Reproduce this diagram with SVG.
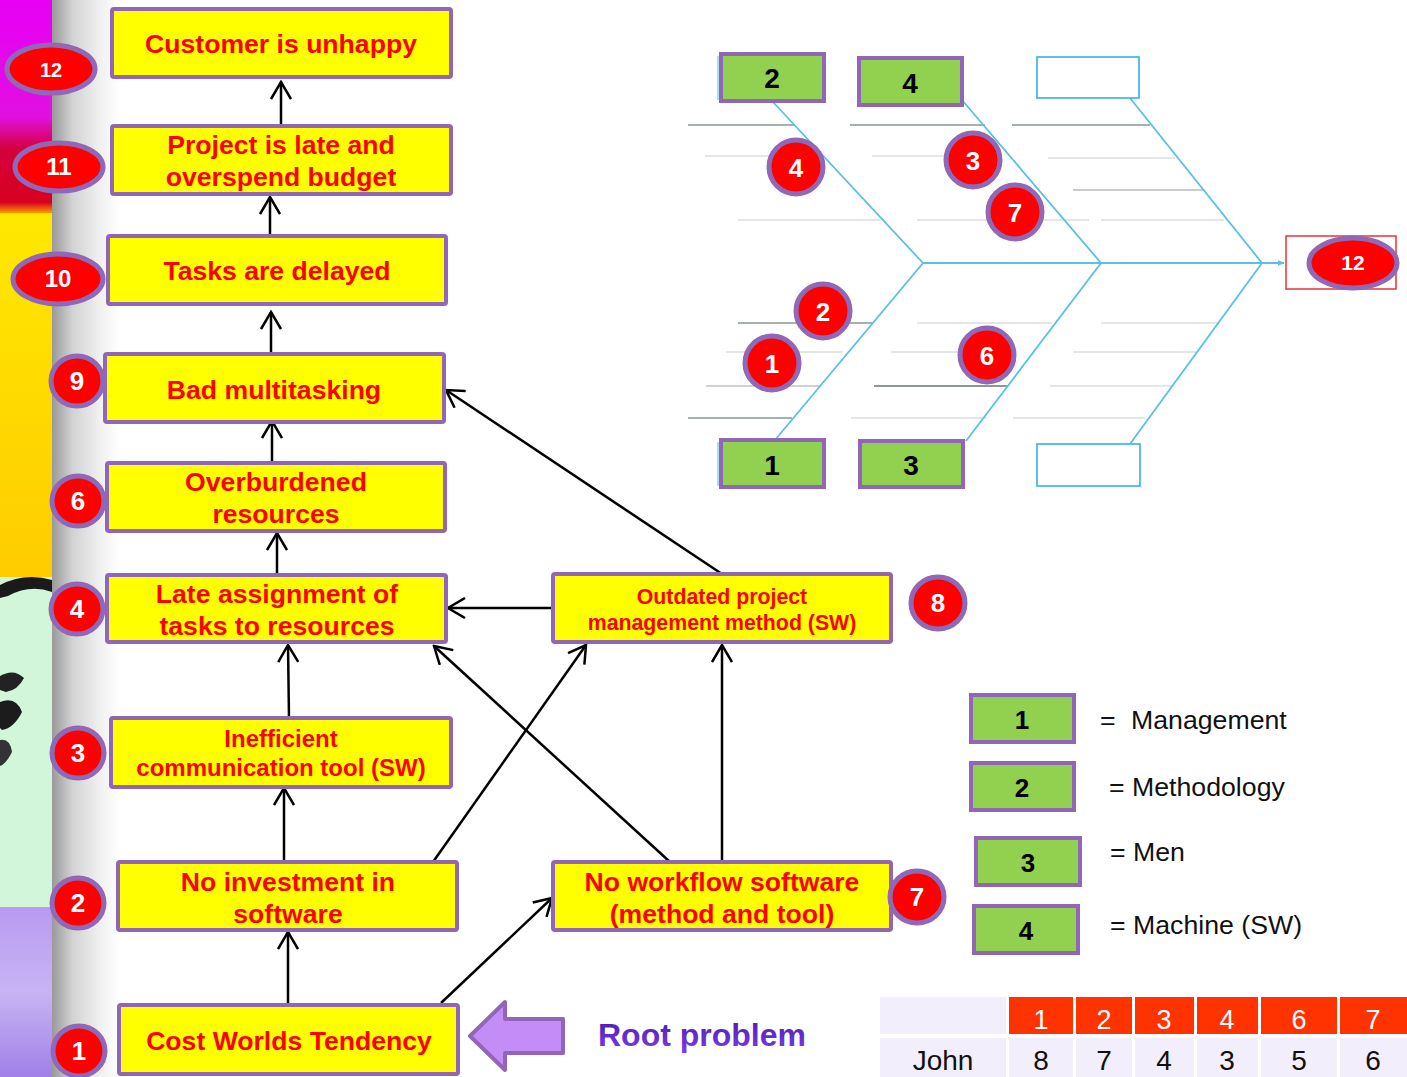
<svg xmlns="http://www.w3.org/2000/svg" width="1407" height="1077" viewBox="0 0 1407 1077">
<defs>
<style>
.box{fill:#ffff00;stroke:#9166b8;stroke-width:4}
.bt{font-family:"Liberation Sans",Arial,sans-serif;font-weight:bold;fill:#ff0000;text-anchor:middle}
.badge{fill:#ff0000;stroke:#8f68b8;stroke-width:5}
.bn{font-family:"Liberation Sans",Arial,sans-serif;font-weight:bold;fill:#ffffff;text-anchor:middle;font-size:24px}
.gb{fill:#92d050;stroke:#9166b8;stroke-width:4}
.gn{font-family:"Liberation Sans",Arial,sans-serif;font-weight:bold;fill:#000;text-anchor:middle;font-size:26px}
.lg{font-family:"Liberation Sans",Arial,sans-serif;fill:#111;font-size:26.7px}
.con{stroke:#000;stroke-width:2.5;fill:none;marker-end:url(#ah)}
.fb{stroke:#5bbfe6;stroke-width:1.8;fill:none}
.rd{stroke:#a7b0b0;stroke-width:2}
.rl{stroke:#e2e6e6;stroke-width:2}
.th{fill:#ff3300}
.tc{fill:#f3eefc}
.tt{font-family:"Liberation Sans",Arial,sans-serif;font-size:27px;text-anchor:middle}
</style>
<marker id="ah" viewBox="0 0 20 22" refX="18" refY="11" markerWidth="20" markerHeight="22" markerUnits="userSpaceOnUse" orient="auto">
<path d="M1,1 L18,11 L1,21" fill="none" stroke="#000" stroke-width="2.5"/>
</marker>
<marker id="fa" viewBox="0 0 10 10" refX="9" refY="5" markerWidth="7" markerHeight="7" markerUnits="userSpaceOnUse" orient="auto">
<path d="M0,1 L10,5 L0,9 z" fill="#5bbfe6"/>
</marker>
<linearGradient id="gray" x1="0" y1="0" x2="1" y2="0">
<stop offset="0" stop-color="#999999"/>
<stop offset="0.3" stop-color="#d2d2d2"/>
<stop offset="0.7" stop-color="#f0f0f0"/>
<stop offset="1" stop-color="#ffffff"/>
</linearGradient>
<linearGradient id="yel" x1="0" y1="0" x2="0" y2="1">
<stop offset="0" stop-color="#ffe800"/>
<stop offset="1" stop-color="#ffcc00"/>
</linearGradient>
<linearGradient id="mag" x1="0" y1="0" x2="0" y2="1">
<stop offset="0" stop-color="#e800f5"/>
<stop offset="0.55" stop-color="#e010e0"/>
<stop offset="0.7" stop-color="#d4003c"/>
<stop offset="0.95" stop-color="#d80020"/>
<stop offset="1" stop-color="#ff9900"/>
</linearGradient>
<linearGradient id="lav" x1="0" y1="0" x2="0" y2="1">
<stop offset="0" stop-color="#b89af0"/>
<stop offset="0.5" stop-color="#c8b4f4"/>
<stop offset="1" stop-color="#a080e8"/>
</linearGradient>
<linearGradient id="rp" x1="0" y1="0" x2="0" y2="1">
<stop offset="0" stop-color="#4a1ba6"/>
<stop offset="1" stop-color="#7b3cf2"/>
</linearGradient>
</defs>
<rect x="0" y="0" width="1407" height="1077" fill="#ffffff"/>
<g id="background">
<rect x="0" y="0" width="52" height="213" fill="url(#mag)"/>
<rect x="0" y="213" width="52" height="364" fill="url(#yel)"/>
<rect x="0" y="577" width="52" height="330" fill="#d2f6da"/>
<path d="M0,585 Q25,572 52,580 L52,592 Q30,584 8,596 L0,598 z" fill="#1a1a1a"/>
<path d="M0,676 Q14,668 24,678 Q18,690 6,692 L0,690 z" fill="#222"/>
<path d="M0,702 Q16,696 22,712 Q14,728 2,730 L0,728 z" fill="#1c1c1c"/>
<path d="M0,740 Q10,738 12,752 Q6,764 0,766 z" fill="#333"/>
<rect x="0" y="907" width="52" height="170" fill="url(#lav)"/>
<rect x="52" y="0" width="68" height="1077" fill="url(#gray)"/>
</g>
<g id="connectors">
<line class="con" x1="281" y1="126" x2="281" y2="82"/>
<line class="con" x1="270" y1="236" x2="270" y2="197"/>
<line class="con" x1="271" y1="354" x2="271" y2="312"/>
<line class="con" x1="272" y1="463" x2="272" y2="421"/>
<line class="con" x1="277" y1="575" x2="277" y2="533"/>
<line class="con" x1="289" y1="718" x2="288" y2="645"/>
<line class="con" x1="284" y1="862" x2="284" y2="788"/>
<line class="con" x1="288" y1="1005" x2="288" y2="932"/>
<line class="con" x1="441" y1="1003" x2="552" y2="898"/>
<line class="con" x1="433" y1="862" x2="586" y2="645"/>
<line class="con" x1="670" y1="862" x2="434" y2="646"/>
<line class="con" x1="722" y1="862" x2="722" y2="645"/>
<line class="con" x1="553" y1="608" x2="448" y2="608"/>
<line class="con" x1="722" y1="574" x2="446" y2="390"/>
</g>
<g id="n12"><rect class="box" x="112" y="9" width="339" height="68" rx="2"/><text class="bt" x="281" y="53" font-size="26.6">Customer is unhappy</text></g>
<g id="n11"><rect class="box" x="112" y="126" width="339" height="68" rx="2"/><text class="bt" x="281" y="154" font-size="26.6">Project is late and</text><text class="bt" x="281" y="186" font-size="26.6">overspend budget</text></g>
<g id="n10"><rect class="box" x="108" y="236" width="338" height="68" rx="2"/><text class="bt" x="277" y="280" font-size="26.6">Tasks are delayed</text></g>
<g id="n9"><rect class="box" x="105" y="354" width="339" height="68" rx="2"/><text class="bt" x="274" y="399" font-size="26.6">Bad multitasking</text></g>
<g id="n6"><rect class="box" x="107" y="463" width="338" height="68" rx="2"/><text class="bt" x="276" y="491" font-size="26.6">Overburdened</text><text class="bt" x="276" y="523" font-size="26.6">resources</text></g>
<g id="n4"><rect class="box" x="107" y="575" width="339" height="67" rx="2"/><text class="bt" x="277" y="603" font-size="26.6">Late assignment of</text><text class="bt" x="277" y="635" font-size="26.6">tasks to resources</text></g>
<g id="n3"><rect class="box" x="111" y="718" width="340" height="69" rx="2"/><text class="bt" x="281" y="747" font-size="24">Inefficient</text><text class="bt" x="281" y="776" font-size="24">communication tool (SW)</text></g>
<g id="n2"><rect class="box" x="118" y="862" width="339" height="68" rx="2"/><text class="bt" x="288" y="891" font-size="26.6">No investment in</text><text class="bt" x="288" y="923" font-size="26.6">software</text></g>
<g id="n1"><rect class="box" x="119" y="1005" width="339" height="69" rx="2"/><text class="bt" x="289" y="1050" font-size="26.6">Cost Worlds Tendency</text></g>
<g id="n8"><rect class="box" x="553" y="574" width="338" height="68" rx="2"/><text class="bt" x="722" y="604" font-size="21.3">Outdated project</text><text class="bt" x="722" y="630" font-size="21.3">management method (SW)</text></g>
<g id="n7"><rect class="box" x="553" y="862" width="338" height="68" rx="2"/><text class="bt" x="722" y="891" font-size="26.6">No workflow software</text><text class="bt" x="722" y="923" font-size="26.6">(method and tool)</text></g>
<g id="badges">
<ellipse class="badge" cx="51" cy="69" rx="44" ry="24"/><text class="bn" x="51" y="77" style="font-size:20px">12</text>
<ellipse class="badge" cx="59" cy="167" rx="44" ry="24"/><text class="bn" x="59" y="175">11</text>
<ellipse class="badge" cx="58" cy="279" rx="45" ry="25"/><text class="bn" x="58" y="287">10</text>
<ellipse class="badge" cx="77" cy="381" rx="26" ry="25"/><text class="bn" x="77" y="390" style="font-size:26px">9</text>
<ellipse class="badge" cx="78" cy="501" rx="26" ry="25"/><text class="bn" x="78" y="510" style="font-size:26px">6</text>
<ellipse class="badge" cx="77" cy="609" rx="26" ry="25"/><text class="bn" x="77" y="618" style="font-size:26px">4</text>
<ellipse class="badge" cx="78" cy="753" rx="26" ry="25"/><text class="bn" x="78" y="762" style="font-size:26px">3</text>
<ellipse class="badge" cx="78" cy="903" rx="26" ry="25"/><text class="bn" x="78" y="912" style="font-size:26px">2</text>
<ellipse class="badge" cx="79" cy="1051" rx="26" ry="25"/><text class="bn" x="79" y="1060" style="font-size:26px">1</text>
<ellipse class="badge" cx="938" cy="603" rx="27" ry="26"/><text class="bn" x="938" y="612" style="font-size:26px">8</text>
<ellipse class="badge" cx="917" cy="897" rx="27" ry="26"/><text class="bn" x="917" y="906" style="font-size:26px">7</text>
</g>
<g id="root-arrow">
<path d="M470,1036 L505,1002 L505,1019 L563,1019 L563,1053 L505,1053 L505,1070 z" fill="#c48cf6" stroke="#9166b8" stroke-width="4" stroke-linejoin="round"/>
<text x="702" y="1046" font-family="'Liberation Sans',Arial,sans-serif" font-weight="bold" font-size="32" fill="url(#rp)" text-anchor="middle">Root problem</text>
</g>
<g id="fishbone">
<line class="rd" x1="688" y1="125" x2="795" y2="125"/>
<line class="rd" x1="850" y1="125" x2="985" y2="125"/>
<line class="rd" x1="1012" y1="125" x2="1150" y2="125"/>
<line class="rl" x1="705" y1="156" x2="812" y2="156"/>
<line class="rl" x1="872" y1="156" x2="987" y2="156"/>
<line class="rl" x1="1048" y1="158" x2="1175" y2="158"/>
<line class="rl" x1="1073" y1="190" x2="1203" y2="190" style="stroke:#c8cccc"/>
<line class="rl" x1="738" y1="220" x2="880" y2="220"/>
<line class="rl" x1="917" y1="220" x2="1089" y2="220"/>
<line class="rl" x1="1101" y1="220" x2="1224" y2="220"/>
<line class="rd" x1="738" y1="323" x2="873" y2="323"/>
<line class="rl" x1="917" y1="323" x2="1052" y2="323"/>
<line class="rl" x1="1101" y1="323" x2="1219" y2="323"/>
<line class="rl" x1="726" y1="352" x2="843" y2="352"/>
<line class="rl" x1="891" y1="352" x2="1017" y2="352"/>
<line class="rl" x1="1073" y1="352" x2="1196" y2="352"/>
<line class="rl" x1="706" y1="386" x2="820" y2="386" style="stroke:#cfd3d3"/>
<line class="rd" x1="874" y1="386" x2="1008" y2="386" style="stroke:#8d9696"/>
<line class="rl" x1="1050" y1="386" x2="1173" y2="386"/>
<line class="rd" x1="688" y1="418" x2="792" y2="418"/>
<line class="rl" x1="851" y1="418" x2="987" y2="418"/>
<line class="rl" x1="1013" y1="418" x2="1145" y2="418"/>
<polyline class="fb" points="773,102 923,263 775,440"/>
<polyline class="fb" points="962,100 1101,263 966,441"/>
<polyline class="fb" points="1130,98 1262,263 1130,444"/>
<line class="fb" x1="923" y1="263" x2="1284" y2="263" marker-end="url(#fa)"/>
<rect x="718" y="57" width="100" height="42" fill="none" stroke="#8fd2f0" stroke-width="1.5"/>
<rect x="718" y="443" width="100" height="42" fill="none" stroke="#8fd2f0" stroke-width="1.5"/>
<rect x="1037" y="57" width="102" height="41" fill="#fff" stroke="#4cb8e8" stroke-width="1.8"/>
<rect x="1037" y="444" width="103" height="42" fill="#fff" stroke="#4cb8e8" stroke-width="1.8"/>
<rect x="1286" y="236" width="110" height="53" fill="#fff" stroke="#ee3030" stroke-width="1.5"/>
</g>
<g id="fb-box-2"><rect class="gb" x="721" y="54" width="103" height="47"/><text class="gn" x="772" y="88" style="font-size:28px">2</text></g>
<g id="fb-box-4"><rect class="gb" x="859" y="58" width="103" height="47"/><text class="gn" x="910" y="93" style="font-size:28px">4</text></g>
<g id="fb-box-1"><rect class="gb" x="721" y="440" width="103" height="47"/><text class="gn" x="772" y="475" style="font-size:28px">1</text></g>
<g id="fb-box-3"><rect class="gb" x="860" y="441" width="103" height="46"/><text class="gn" x="911" y="475" style="font-size:28px">3</text></g>
<g id="fb-badges">
<ellipse class="badge" cx="796" cy="167" rx="27" ry="27"/><text class="bn" x="796" y="177" style="font-size:26px">4</text>
<ellipse class="badge" cx="973" cy="160" rx="27" ry="27"/><text class="bn" x="973" y="170" style="font-size:26px">3</text>
<ellipse class="badge" cx="1015" cy="212" rx="27" ry="27"/><text class="bn" x="1015" y="222" style="font-size:26px">7</text>
<ellipse class="badge" cx="823" cy="311" rx="27" ry="27"/><text class="bn" x="823" y="321" style="font-size:26px">2</text>
<ellipse class="badge" cx="772" cy="363" rx="27" ry="27"/><text class="bn" x="772" y="373" style="font-size:26px">1</text>
<ellipse class="badge" cx="987" cy="355" rx="27" ry="27"/><text class="bn" x="987" y="365" style="font-size:26px">6</text>
<ellipse class="badge" cx="1353" cy="263" rx="44" ry="25"/><text class="bn" x="1353" y="270" style="font-size:21px">12</text>
</g>
<g id="legend">
<rect class="gb" x="971" y="695" width="103" height="47"/><text class="gn" x="1022" y="729">1</text>
<text class="lg" x="1100" y="729">=</text><text class="lg" x="1131" y="729">Management</text>
<rect class="gb" x="971" y="763" width="103" height="47"/><text class="gn" x="1022" y="797">2</text>
<text class="lg" x="1109" y="796">= Methodology</text>
<rect class="gb" x="976" y="838" width="104" height="47"/><text class="gn" x="1028" y="872">3</text>
<text class="lg" x="1110" y="861">= Men</text>
<rect class="gb" x="974" y="906" width="104" height="47"/><text class="gn" x="1026" y="940">4</text>
<text class="lg" x="1110" y="934">= Machine (SW)</text>
</g>
<g id="table">
<rect class="tc" x="880" y="997" width="126" height="37"/>
<rect class="th" x="1009" y="997" width="64" height="37"/>
<rect class="th" x="1076" y="997" width="56" height="37"/>
<rect class="th" x="1135" y="997" width="59" height="37"/>
<rect class="th" x="1197" y="997" width="61" height="37"/>
<rect class="th" x="1261" y="997" width="76" height="37"/>
<rect class="th" x="1340" y="997" width="67" height="37"/>
<rect class="tc" x="880" y="1038" width="126" height="39"/>
<rect class="tc" x="1009" y="1038" width="64" height="39"/>
<rect class="tc" x="1076" y="1038" width="56" height="39"/>
<rect class="tc" x="1135" y="1038" width="59" height="39"/>
<rect class="tc" x="1197" y="1038" width="61" height="39"/>
<rect class="tc" x="1261" y="1038" width="76" height="39"/>
<rect class="tc" x="1340" y="1038" width="67" height="39"/>
<g class="tt" fill="#ffffff">
<text x="1041" y="1029">1</text><text x="1104" y="1029">2</text><text x="1164" y="1029">3</text><text x="1227" y="1029">4</text><text x="1299" y="1029">6</text><text x="1373" y="1029">7</text>
</g>
<g class="tt" fill="#111111" style="font-size:28px">
<text x="943" y="1070">John</text><text x="1041" y="1070">8</text><text x="1104" y="1070">7</text><text x="1164" y="1070">4</text><text x="1227" y="1070">3</text><text x="1299" y="1070">5</text><text x="1373" y="1070">6</text>
</g>
</g>
</svg>
